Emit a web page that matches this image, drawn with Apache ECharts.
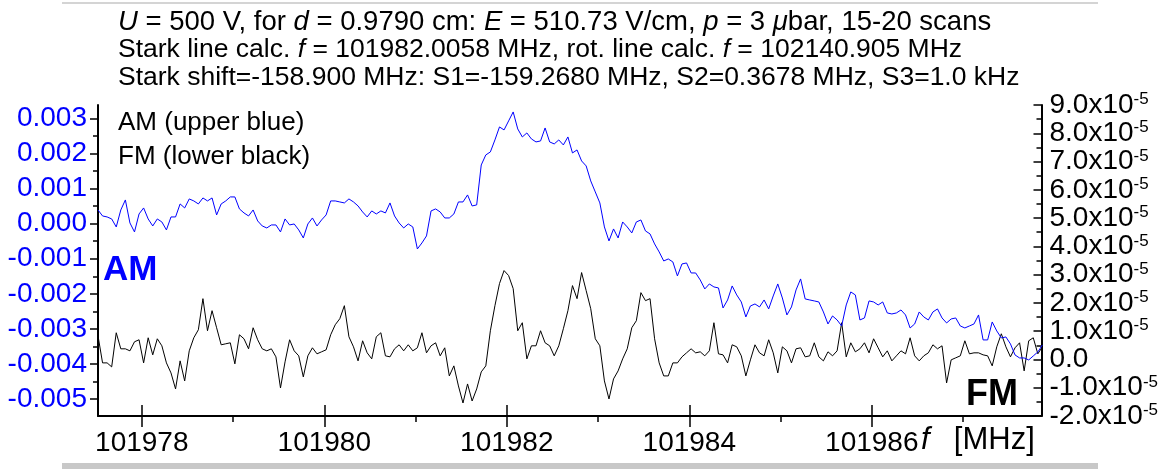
<!DOCTYPE html>
<html>
<head>
<meta charset="utf-8">
<script src="https://cdn.jsdelivr.net/npm/echarts@6.0.0/dist/echarts.min.js"></script>
<style>
  html, body { margin: 0; padding: 0; background: #fff; }
  #chart { width: 1161px; height: 472px; }
</style>
</head>
<body>
<div id="chart"></div>
<script>
// Frequency sweep: first point and step of the scan grid (MHz)
const scanStart = 101977.52;
const scanStep = 0.05;

// AM signal (left axis), one value per sweep point
const amSignal = [
  0.390e-3, 0.219e-3, 0.191e-3, 0.134e-3, -0.094e-3, 0.390e-3, 0.675e-3, 0.020e-3, -0.236e-3, 0.276e-3,
  0.447e-3, 0.134e-3, -0.066e-3, 0.134e-3, 0.048e-3, -0.179e-3, 0.191e-3, 0.191e-3, 0.561e-3, 0.447e-3,
  0.704e-3, 0.647e-3, 0.561e-3, 0.732e-3, 0.647e-3, 0.732e-3, 0.248e-3, 0.561e-3, 0.647e-3, 0.761e-3,
  0.761e-3, 0.419e-3, 0.305e-3, 0.219e-3, 0.390e-3, 0.077e-3, -0.066e-3, -0.123e-3, -0.037e-3, -0.037e-3,
  -0.236e-3, 0.134e-3, -0.037e-3, -0.009e-3, -0.179e-3, -0.407e-3, -0.009e-3, 0.162e-3, -0.066e-3, 0.105e-3,
  0.248e-3, 0.647e-3, 0.647e-3, 0.618e-3, 0.590e-3, 0.704e-3, 0.618e-3, 0.504e-3, 0.333e-3, 0.191e-3,
  0.362e-3, 0.276e-3, 0.362e-3, 0.305e-3, 0.590e-3, 0.219e-3, 0.020e-3, -0.123e-3, -0.009e-3, -0.094e-3,
  -0.721e-3, -0.550e-3, -0.350e-3, 0.362e-3, 0.419e-3, 0.333e-3, 0.162e-3, 0.162e-3, 0.276e-3, 0.618e-3,
  0.618e-3, 0.818e-3, 0.504e-3, 0.533e-3, 1.672e-3, 1.957e-3, 2.043e-3, 2.385e-3, 2.755e-3, 2.670e-3,
  2.926e-3, 3.182e-3, 2.698e-3, 2.470e-3, 2.584e-3, 2.413e-3, 2.328e-3, 2.356e-3, 2.726e-3, 2.328e-3,
  2.271e-3, 2.385e-3, 2.242e-3, 2.470e-3, 2.014e-3, 2.100e-3, 1.786e-3, 1.644e-3, 1.217e-3, 0.903e-3,
  0.590e-3, -0.094e-3, -0.493e-3, -0.151e-3, -0.407e-3, 0.048e-3, -0.094e-3, -0.265e-3, 0.048e-3, 0.105e-3,
  -0.208e-3, -0.293e-3, -0.578e-3, -0.806e-3, -1.063e-3, -1.006e-3, -1.091e-3, -1.490e-3, -1.148e-3, -1.120e-3,
  -1.405e-3, -1.405e-3, -1.604e-3, -1.860e-3, -1.718e-3, -1.803e-3, -1.832e-3, -2.402e-3, -2.174e-3, -1.775e-3,
  -2.031e-3, -2.231e-3, -2.658e-3, -2.345e-3, -2.288e-3, -2.373e-3, -2.174e-3, -2.430e-3, -2.060e-3, -1.718e-3,
  -2.117e-3, -2.601e-3, -2.373e-3, -1.889e-3, -1.575e-3, -2.145e-3, -2.174e-3, -2.202e-3, -2.231e-3, -2.516e-3,
  -2.858e-3, -2.630e-3, -2.744e-3, -2.915e-3, -2.316e-3, -1.946e-3, -2.031e-3, -2.744e-3, -2.687e-3, -2.202e-3,
  -2.231e-3, -2.316e-3, -2.231e-3, -2.544e-3, -2.573e-3, -2.544e-3, -2.459e-3, -2.601e-3, -2.972e-3, -2.858e-3,
  -2.516e-3, -2.658e-3, -2.744e-3, -2.516e-3, -2.430e-3, -2.687e-3, -2.829e-3, -2.715e-3, -2.687e-3, -2.915e-3,
  -2.972e-3, -2.915e-3, -2.858e-3, -2.601e-3, -3.313e-3, -3.313e-3, -2.801e-3, -3.057e-3, -3.256e-3, -3.228e-3,
  -3.427e-3, -3.741e-3, -3.826e-3, -3.826e-3, -3.883e-3, -3.769e-3, -3.655e-3, -3.456e-3
];

// FM signal (right axis), one value per sweep point
const fmSignal = [
  0.837e-5, -0.121e-5, -0.121e-5, -0.263e-5, 0.944e-5, 0.376e-5, 0.376e-5, 0.305e-5, 0.625e-5, 0.696e-5,
  -0.121e-5, 0.767e-5, 0.163e-5, 0.731e-5, 0.483e-5, -0.121e-5, -0.476e-5, -1.043e-5, -0.050e-5, -0.759e-5,
  0.305e-5, 0.767e-5, 1.050e-5, 2.150e-5, 1.015e-5, 1.725e-5, 1.121e-5, 0.518e-5, 0.554e-5, 0.589e-5,
  -0.156e-5, 0.873e-5, 0.731e-5, 0.376e-5, 1.121e-5, 0.696e-5, 0.376e-5, 0.305e-5, 0.376e-5, 0.092e-5,
  -1.008e-5, -0.085e-5, 0.696e-5, 0.305e-5, 0.128e-5, -0.617e-5, 0.128e-5, 0.412e-5, 0.199e-5, 0.270e-5,
  0.341e-5, 0.873e-5, 1.228e-5, 1.441e-5, 1.902e-5, 0.802e-5, 0.447e-5, -0.050e-5, 0.660e-5, 0.234e-5,
  0.021e-5, 0.802e-5, 0.944e-5, 0.128e-5, 0.092e-5, 0.376e-5, 0.518e-5, 0.305e-5, 0.518e-5, 0.305e-5,
  0.412e-5, 0.944e-5, 0.234e-5, 0.483e-5, 0.589e-5, 0.128e-5, 0.412e-5, -0.582e-5, -0.227e-5, -0.937e-5,
  -1.540e-5, -0.866e-5, -1.469e-5, -1.043e-5, -0.440e-5, -0.227e-5, 1.015e-5, 1.902e-5, 2.683e-5, 3.144e-5,
  2.967e-5, 2.505e-5, 1.015e-5, 1.299e-5, 0.021e-5, 0.483e-5, 0.483e-5, 1.015e-5, 0.589e-5, 0.483e-5,
  0.128e-5, 0.483e-5, 1.086e-5, 1.725e-5, 2.612e-5, 2.150e-5, 3.073e-5, 2.434e-5, 1.796e-5, 0.731e-5,
  0.483e-5, -0.759e-5, -1.398e-5, -0.688e-5, -0.405e-5, 0.021e-5, 0.376e-5, 1.121e-5, 1.370e-5, 2.363e-5,
  2.080e-5, 2.150e-5, 0.731e-5, -0.121e-5, -0.582e-5, -0.582e-5, -0.121e-5, -0.121e-5, 0.092e-5, 0.234e-5,
  0.376e-5, 0.234e-5, 0.270e-5, 0.128e-5, 0.305e-5, 1.299e-5, 0.199e-5, 0.163e-5, -0.121e-5, 0.518e-5,
  0.447e-5, 0.128e-5, -0.582e-5, -0.014e-5, 0.518e-5, 0.234e-5, 0.128e-5, 0.696e-5, 0.234e-5, -0.476e-5,
  0.447e-5, 0.305e-5, -0.121e-5, 0.376e-5, 0.412e-5, 0.092e-5, 0.128e-5, 0.589e-5, 0.092e-5, -0.050e-5,
  0.270e-5, 0.128e-5, 0.305e-5, 1.299e-5, 0.092e-5, 0.589e-5, 0.270e-5, 0.376e-5, 0.589e-5, 0.234e-5,
  0.731e-5, 0.412e-5, 0.092e-5, 0.305e-5, -0.050e-5, 0.128e-5, 0.305e-5, 0.199e-5, 0.767e-5, 0.128e-5,
  -0.050e-5, 0.128e-5, 0.234e-5, 0.518e-5, 0.376e-5, 0.483e-5, -0.830e-5, -0.014e-5, 0.057e-5, 0.128e-5,
  0.660e-5, 0.199e-5, 0.234e-5, 0.234e-5, 0.163e-5, 0.128e-5, -0.227e-5, 0.447e-5, 0.908e-5, 0.447e-5,
  0.092e-5, 0.412e-5, 0.589e-5, -0.405e-5, 0.660e-5, 0.767e-5, 0.199e-5, 0.447e-5
];

// Axis ranges and tick positions
const freqRange = [101977.52, 101987.86];
const freqTicks = [101978, 101980, 101982, 101984, 101986];
const freqMinorTicks = [101979, 101981, 101983, 101985, 101987];
const amRange = [-0.00548, 0.00338];
const amTicks = [-0.005, -0.004, -0.003, -0.002, -0.001, 0, 0.001, 0.002, 0.003];
const amMinorTicks = [-0.0045, -0.0035, -0.0025, -0.0015, -0.0005, 0.0005, 0.0015, 0.0025];
const fmRange = [-2.0e-5, 9.0e-5];
const fmTicks = [-2.0e-5, -1.0e-5, 0, 1.0e-5, 2.0e-5, 3.0e-5, 4.0e-5, 5.0e-5, 6.0e-5, 7.0e-5, 8.0e-5, 9.0e-5];
const fmMinorTicks = [-1.5e-5, -0.5e-5, 0.5e-5, 1.5e-5, 2.5e-5, 3.5e-5, 4.5e-5, 5.5e-5, 6.5e-5, 7.5e-5, 8.5e-5];

// Header and annotation texts ({i|...} marks italic symbols)
const headerLines = [
  '{i|U} = 500 V, for {i|d} = 0.9790 cm: {i|E} = 510.73 V/cm, {i|p} = 3 {i|\u03bc}bar, 15-20 scans',
  'Stark line calc. {i|f} = 101982.0058 MHz, rot. line calc. {i|f} = 102140.905 MHz',
  'Stark shift=-158.900 MHz: S1=-159.2680 MHz, S2=0.3678 MHz, S3=1.0 kHz'
];
const headerSizes = [27.5, 26.5, 26.5];
const legendLines = ['AM (upper blue)', 'FM (lower black)'];
const freqAxisTitle = '{i|f}  [MHz]';

const FONT = 'Liberation Sans';
const BLUE = '#0000ff';
const INK = '#000000';
const TICK_FONT = 28;

const chart = echarts.init(document.getElementById('chart'), null, { renderer: 'canvas' });

const toPoints = (values) => values.map((v, i) => [scanStart + i * scanStep, v]);

const tickStyle = { color: INK, width: 1.5 };
const noSplit = { show: false };

const xBase = {
  type: 'value', min: freqRange[0], max: freqRange[1], position: 'bottom',
  splitLine: noSplit
};

const italicRich = (size, pad) => ({
  i: { fontStyle: 'italic', fontSize: size, fontFamily: FONT, fill: INK, padding: pad || 0 }
});

const option = {
  animation: false,
  backgroundColor: '#ffffff',
  grid: { left: 98, right: 118, top: 105, bottom: 56, containLabel: false },
  xAxis: [
    {
      ...xBase,
      axisLine: { show: true, onZero: false, lineStyle: { color: INK, width: 2 } },
      axisTick: { show: true, customValues: freqTicks, length: 11, lineStyle: tickStyle },
      axisLabel: {
        customValues: freqTicks, color: INK, fontSize: TICK_FONT, fontFamily: FONT, margin: 13,
        formatter: (v) => String(v)
      }
    },
    {
      ...xBase,
      axisLine: { show: false, onZero: false },
      axisTick: { show: true, inside: true, customValues: freqTicks, length: 11, lineStyle: tickStyle },
      axisLabel: { show: false }
    },
    {
      ...xBase,
      axisLine: { show: false, onZero: false },
      axisTick: { show: true, customValues: freqMinorTicks, length: 6, lineStyle: tickStyle },
      axisLabel: { show: false }
    }
  ],
  yAxis: [
    {
      type: 'value', min: amRange[0], max: amRange[1], position: 'left',
      splitLine: noSplit,
      axisLine: { show: true, onZero: false, lineStyle: { color: INK, width: 2 } },
      axisTick: { show: true, customValues: amTicks, length: 8, lineStyle: tickStyle },
      axisLabel: {
        customValues: amTicks, color: BLUE, fontSize: TICK_FONT, fontFamily: FONT, margin: 11,
        formatter: (v) => v.toFixed(3)
      }
    },
    {
      type: 'value', min: amRange[0], max: amRange[1], position: 'left',
      splitLine: noSplit,
      axisLine: { show: false, onZero: false },
      axisTick: { show: true, customValues: amMinorTicks, length: 5, lineStyle: tickStyle },
      axisLabel: { show: false }
    },
    {
      type: 'value', min: fmRange[0], max: fmRange[1], position: 'right',
      splitLine: noSplit,
      axisLine: { show: true, onZero: false, lineStyle: { color: INK, width: 2 } },
      axisTick: { show: true, inside: true, customValues: fmTicks, length: 8, lineStyle: tickStyle },
      axisLabel: {
        customValues: fmTicks, color: INK, fontSize: TICK_FONT, fontFamily: FONT, margin: 8,
        formatter: (v) => {
          const m = (v * 1e5).toFixed(1);
          return m === '0.0' ? '{n|0.0}' : '{n|' + m + 'x10}{s|-5}';
        },
        rich: {
          n: { fontSize: TICK_FONT, fontFamily: FONT, color: INK },
          s: { fontSize: 17, fontFamily: FONT, color: INK, verticalAlign: 'top', padding: [0, 0, 11, 0] }
        }
      }
    },
    {
      type: 'value', min: fmRange[0], max: fmRange[1], position: 'right',
      splitLine: noSplit,
      axisLine: { show: false, onZero: false },
      axisTick: { show: true, inside: true, customValues: fmMinorTicks, length: 5, lineStyle: tickStyle },
      axisLabel: { show: false }
    }
  ],
  series: [
    {
      name: 'FM', type: 'line', xAxisIndex: 0, yAxisIndex: 2,
      data: toPoints(fmSignal), showSymbol: false, symbol: 'none', clip: true,
      lineStyle: { color: INK, width: 1 }, itemStyle: { color: INK }, z: 3
    },
    {
      name: 'AM', type: 'line', xAxisIndex: 0, yAxisIndex: 0,
      data: toPoints(amSignal), showSymbol: false, symbol: 'none', clip: true,
      lineStyle: { color: BLUE, width: 1 }, itemStyle: { color: BLUE }, z: 4
    }
  ],
  graphic: [
    { type: 'rect', silent: true, shape: { x: 62, y: 2, width: 1036, height: 2 }, style: { fill: '#d4d4d4' } },
    { type: 'rect', silent: true, shape: { x: 62, y: 463, width: 1036, height: 6 }, style: { fill: '#c8c8c8' } },
    ...headerLines.map((t, k) => ({
      type: 'text', silent: true, x: 118, y: 22 + k * 28,
      style: {
        text: t, fill: INK, fontSize: headerSizes[k], fontFamily: FONT, verticalAlign: 'middle',
        rich: italicRich(headerSizes[k])
      }
    })),
    ...legendLines.map((t, k) => ({
      type: 'text', silent: true, x: 118, y: 123 + k * 34,
      style: { text: t, fill: INK, fontSize: 26, fontFamily: FONT, verticalAlign: 'middle' }
    })),
    {
      type: 'text', silent: true, x: 103, y: 270,
      style: { text: 'AM', fill: BLUE, fontSize: 35, fontWeight: 'bold', fontFamily: FONT, verticalAlign: 'middle' }
    },
    {
      type: 'text', silent: true, x: 966, y: 395,
      style: { text: 'FM', fill: INK, fontSize: 36, fontWeight: 'bold', fontFamily: FONT, verticalAlign: 'middle' }
    },
    {
      type: 'text', silent: true, x: 921, y: 440,
      style: {
        text: freqAxisTitle, fill: INK, fontSize: 31, fontFamily: FONT, verticalAlign: 'middle',
        rich: italicRich(31, [0, 7, 0, 0])
      }
    }
  ]
};

chart.setOption(option);
</script>
</body>
</html>
